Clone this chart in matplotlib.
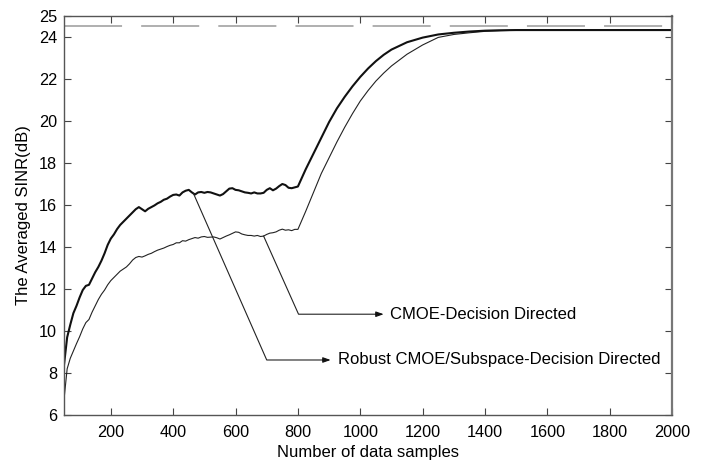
import numpy as np
import matplotlib
matplotlib.use("Agg")
import matplotlib.pyplot as plt

plt.rcParams['font.family'] = ['Liberation Sans', 'DejaVu Sans']

# sample grid: dense over the noisy start-up phase, coarser over the convergence
x_early = list(range(50, 801, 10))
x_late = [825, 850, 875, 900, 925, 950, 975, 1000, 1025, 1050, 1075, 1100,
          1150, 1200, 1250, 1300, 1350, 1400, 1450, 1500, 1600, 1700, 1800, 1900, 2000]

# Robust CMOE/Subspace-Decision Directed
robust_early = [8.4, 9.7, 10.3, 10.85, 11.2, 11.6, 11.95, 12.15, 12.2, 12.5,
                12.8, 13.05, 13.35, 13.7, 14.1, 14.4, 14.6, 14.85, 15.05, 15.2,
                15.35, 15.5, 15.65, 15.8, 15.9, 15.8, 15.7, 15.82, 15.9, 15.98,
                16.08, 16.15, 16.25, 16.3, 16.4, 16.48, 16.5, 16.45, 16.6, 16.68,
                16.72, 16.6, 16.5, 16.6, 16.62, 16.58, 16.62, 16.6, 16.55, 16.5,
                16.45, 16.52, 16.65, 16.78, 16.8, 16.72, 16.7, 16.65, 16.6, 16.58,
                16.55, 16.6, 16.55, 16.55, 16.58, 16.72, 16.8, 16.7, 16.78, 16.9,
                17.0, 16.95, 16.82, 16.8, 16.84, 16.88]
robust_late = [17.7, 18.45, 19.2, 19.95, 20.6, 21.15, 21.65, 22.1, 22.5, 22.85,
               23.15, 23.4, 23.75, 23.97, 24.12, 24.2, 24.26, 24.3, 24.32, 24.33,
               24.33, 24.33, 24.33, 24.33, 24.33]

# CMOE-Decision Directed
cmoe_early = [6.75, 8.2, 8.7, 9.05, 9.4, 9.73, 10.1, 10.4, 10.55, 10.9,
              11.2, 11.5, 11.75, 11.95, 12.2, 12.4, 12.55, 12.7, 12.85, 12.95,
              13.05, 13.2, 13.38, 13.5, 13.55, 13.52, 13.58, 13.65, 13.7, 13.78,
              13.85, 13.9, 13.95, 14.02, 14.08, 14.12, 14.2, 14.2, 14.3, 14.28,
              14.35, 14.4, 14.45, 14.42, 14.48, 14.5, 14.46, 14.47, 14.48, 14.44,
              14.38, 14.45, 14.52, 14.58, 14.65, 14.72, 14.7, 14.62, 14.58, 14.55,
              14.55, 14.52, 14.55, 14.5, 14.52, 14.6, 14.66, 14.68, 14.72, 14.8,
              14.85, 14.8, 14.82, 14.78, 14.84, 14.84]
cmoe_late = [15.7, 16.6, 17.5, 18.25, 19.0, 19.7, 20.35, 20.95, 21.45, 21.9,
             22.28, 22.62, 23.18, 23.62, 23.98, 24.12, 24.2, 24.27, 24.3, 24.32,
             24.33, 24.33, 24.33, 24.33, 24.33]

# optimum SINR bound
optimum_sinr = 24.5

x = np.array(x_early + x_late, dtype=float)
robust = np.array(robust_early + robust_late)
cmoe = np.array(cmoe_early + cmoe_late)

fig = plt.figure(figsize=(7.06, 4.66), dpi=100)
ax = fig.add_axes([0.0907, 0.1094, 0.8613, 0.8563])

ax.plot([50, 2000], [optimum_sinr, optimum_sinr], color='#9a9a9a', lw=1.1,
        dashes=(38, 12.5))
ax.plot(x, cmoe, color='#222222', lw=0.8)
ax.plot(x, robust, color='#111111', lw=1.5)

ax.set_xlim(50, 2000)
ax.set_ylim(6, 25)
ax.set_xticks(range(200, 2001, 200))
ax.set_yticks(list(range(6, 25, 2)) + [25])
ax.tick_params(direction='in', length=5, top=True, right=True, labelsize=11.7,
               color='#444444', pad=5)
ax.tick_params(axis='x', pad=7)
for side in ax.spines:
    ax.spines[side].set_color('#555555')
    ax.spines[side].set_linewidth(1.0)
ax.spines['right'].set_linewidth(1.6)
ax.spines['right'].set_color('#777777')

ax.set_xlabel('Number of data samples', fontsize=12, labelpad=4)
ax.set_ylabel('The Averaged SINR(dB)', fontsize=12, labelpad=6)


def callout(x0, series, xk, yk, xa, xt, text):
    y0 = np.interp(x0, x, series)
    ax.plot([x0, xk, xa - 20], [y0, yk, yk], color='#222222', lw=0.8)
    ax.annotate('', xy=(xa, yk), xytext=(xa - 25, yk),
                arrowprops=dict(arrowstyle='-|>,head_length=0.45,head_width=0.16',
                                color='#111111', lw=0.8, shrinkA=0, shrinkB=0))
    ax.text(xt, yk, text, fontsize=12, va='center', ha='left')


callout(690, cmoe, 802, 10.8, 1075, 1094, 'CMOE-Decision Directed')
callout(465, robust, 700, 8.62, 905, 930,
        'Robust CMOE/Subspace-Decision Directed')

fig.savefig('out.png', dpi=100)
